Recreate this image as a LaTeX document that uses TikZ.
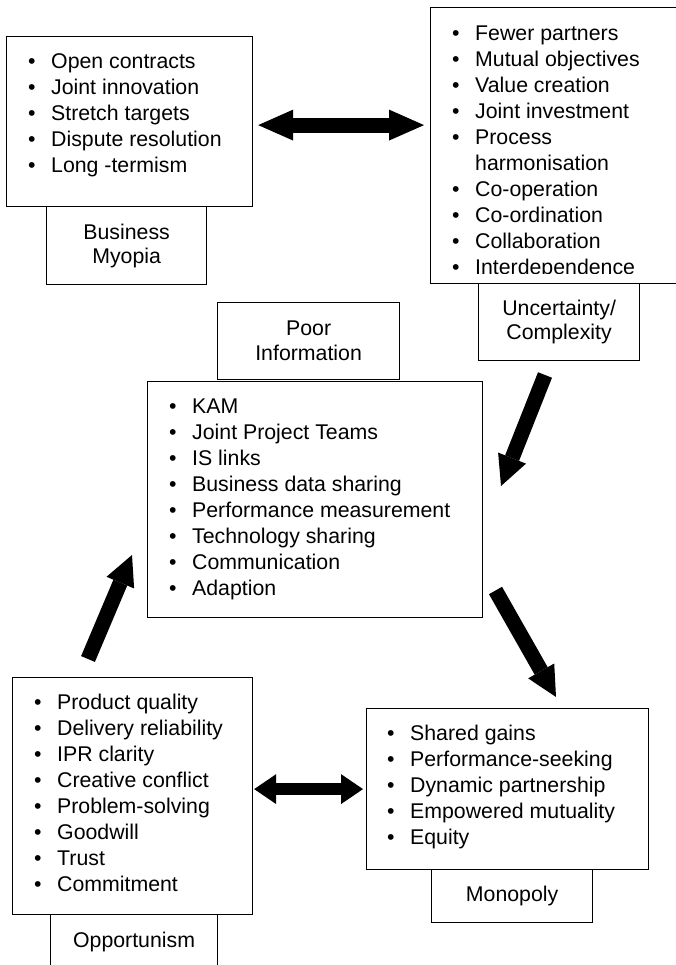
\documentclass[tikz,border=0pt]{standalone}
\usepackage{fontspec}
\setmainfont{Liberation Sans}
\usetikzlibrary{arrows.meta}

\newcommand{\bul}{\makebox[23pt][l]{\textbullet}}

\begin{document}
\begin{tikzpicture}[x=1pt,y=-1pt,font=\fontsize{21.3}{26}\selectfont,
    bigarrow/.style={line width=15pt,-{Triangle[width=30pt,length=30pt,line width=0pt]}},
    dbltop/.style={line width=15pt,{Triangle[width=31pt,length=35pt,line width=0pt]}-{Triangle[width=31pt,length=35pt,line width=0pt]}},
    dblbot/.style={line width=12pt,{Triangle[width=30pt,length=22pt,line width=0pt]}-{Triangle[width=30pt,length=22pt,line width=0pt]}}]

        \useasboundingbox (0,0) rectangle (675,965);

        \begin{scope}[every node/.style={draw, line width=1.2pt, anchor=north west, inner sep=0pt, align=center}]
          % main boxes
          \node[minimum width=246pt, minimum height=170pt] (bizbox)    at (6,36)    {};
          \node[minimum width=250pt, minimum height=276pt] (collabbox) at (430,7)   {};
          \node[minimum width=335pt, minimum height=236pt] (infobox)   at (147,381) {};
          \node[minimum width=240pt, minimum height=237pt] (oppbox)    at (12,677)  {};
          \node[minimum width=282pt, minimum height=161pt] (monobox)   at (366,708) {};
          % labels
          \node[minimum width=160pt, minimum height=78pt] (myopia)   at (46,206)  {Business\\[-2pt]Myopia};
          \node[minimum width=161pt, minimum height=77pt] (uncert)   at (478,283) {Uncertainty/\\[-2pt]Complexity};
          \node[minimum width=182pt, minimum height=77pt] (poorinfo) at (217,302) {Poor\\[-1pt]Information};
          \node[minimum width=167pt, minimum height=54pt] (opport)   at (50,914)  {Opportunism};
          \node[minimum width=161pt, minimum height=53pt] (monopoly) at (431,869) {Monopoly};
        \end{scope}

        \begin{scope}[every node/.style={anchor=base west, inner sep=0pt}]
          \node (bizlist) at (28,69) {\begin{tabular}[t]{@{}l@{}}
            \bul Open contracts\\ \bul Joint innovation\\ \bul Stretch targets\\
            \bul Dispute resolution\\ \bul Long -termism\end{tabular}};
          \begin{scope}
            \clip (430,7) rectangle (675,274);
            \node (collablist) at (452,41) {\begin{tabular}[t]{@{}l@{}}
              \bul Fewer partners\\ \bul Mutual objectives\\ \bul Value creation\\
              \bul Joint investment\\ \bul Process\\ \hspace{23pt}harmonisation\\
              \bul Co-operation\\ \bul Co-ordination\\ \bul Collaboration\\
              \bul Interdependence\end{tabular}};
          \end{scope}
          \node (infolist) at (169,413) {\begin{tabular}[t]{@{}l@{}}
            \bul KAM\\ \bul Joint Project Teams\\ \bul IS links\\
            \bul Business data sharing\\ \bul Performance measurement\\
            \bul Technology sharing\\ \bul Communication\\ \bul Adaption\end{tabular}};
          \node (opplist) at (34,709) {\begin{tabular}[t]{@{}l@{}}
            \bul Product quality\\ \bul Delivery reliability\\ \bul IPR clarity\\
            \bul Creative conflict\\ \bul Problem-solving\\ \bul Goodwill\\
            \bul Trust\\ \bul Commitment\end{tabular}};
          \node (monolist) at (387,740) {\begin{tabular}[t]{@{}l@{}}
            \bul Shared gains\\ \bul Performance-seeking\\ \bul Dynamic partnership\\
            \bul Empowered mutuality\\ \bul Equity\end{tabular}};
        \end{scope}

        % arrow ends
        \coordinate (ua) at (545,375);
        \coordinate (ub) at (501,486);
        \coordinate (ma) at (495.5,590.5);
        \coordinate (mb) at (556,697);
        \coordinate (oa) at (88,659);
        \coordinate (ob) at (132,555);
        \coordinate (tm) at ([yshift=-3.5pt]bizbox.east);

        \begin{scope}[every edge/.style={draw}]
          \path (tm) edge[dbltop, shorten <=5pt, shorten >=6pt] (tm -| collabbox.west);
          \path (oppbox.east |- monobox.west) edge[dblbot, shorten <=1pt, shorten >=3pt] (monobox.west);
          \path (ua) edge[bigarrow] (ub);
          \path (ma) edge[bigarrow] (mb);
          \path (oa) edge[bigarrow] (ob);
        \end{scope}

      \end{tikzpicture}
\end{document}
